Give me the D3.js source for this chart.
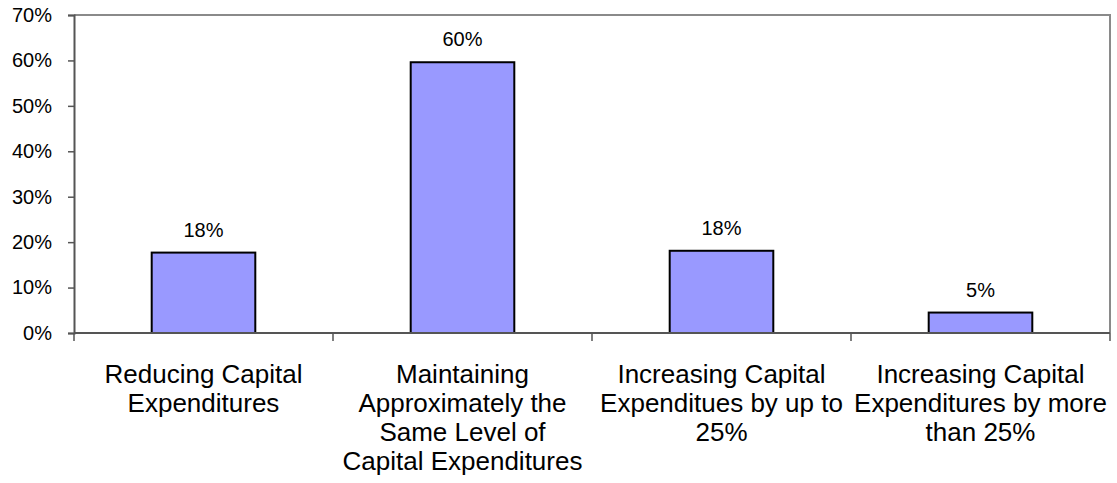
<!DOCTYPE html>
<html>
<head>
<meta charset="utf-8">
<style>
  body { margin: 0; background: #fff; }
  text { font-family: "Liberation Sans", Arial, sans-serif; fill: #000; }
</style>
</head>
<body>
<script src="https://d3js.org/d3.v7.min.js"></script>
<script>
// chart data
var categories = [
  ["Reducing Capital", "Expenditures"],
  ["Maintaining", "Approximately the", "Same Level of", "Capital Expenditures"],
  ["Increasing Capital", "Expenditues by up to", "25%"],
  ["Increasing Capital", "Expenditures by more", "than 25%"]
];
var values = [17.7, 59.6, 18.1, 4.5];
var valueLabels = ["18%", "60%", "18%", "5%"];
var yTicks = [0, 10, 20, 30, 40, 50, 60, 70];

var w = 1117, h = 483;
var padL = 74, padR = 1110, padT = 15, padB = 333;

var svg = d3.select("body").append("svg")
  .attr("width", w)
  .attr("height", h);

var x = d3.scaleBand()
  .domain(d3.range(categories.length))
  .range([padL, padR])
  .paddingInner(0)
  .paddingOuter(0);

var y = d3.scaleLinear()
  .domain([0, 70])
  .range([padB, padT]);

var barW = x.bandwidth() * 0.4;

// top and right border of plot area
svg.append("path")
  .attr("d", "M" + padL + "," + padT + "H" + padR + "V" + padB)
  .attr("fill", "none")
  .attr("stroke", "#8a8a8a")
  .attr("stroke-width", 2);

// bars
svg.selectAll("rect.bar")
  .data(values)
  .enter()
  .append("rect")
  .attr("class", "bar")
  .attr("x", function(d, i) { return x(i) + x.bandwidth() / 2 - barW / 2; })
  .attr("y", function(d) { return y(d); })
  .attr("width", barW)
  .attr("height", function(d) { return padB - y(d); })
  .attr("fill", "#9999ff")
  .attr("stroke", "#000")
  .attr("stroke-width", 2);

// value labels
svg.selectAll("text.val")
  .data(values)
  .enter()
  .append("text")
  .attr("class", "val")
  .attr("x", function(d, i) { return x(i) + x.bandwidth() / 2; })
  .attr("y", function(d) { return y(d) - 16; })
  .attr("text-anchor", "middle")
  .style("font-size", "20px")
  .text(function(d, i) { return valueLabels[i]; });

// y axis
var yAxis = d3.axisLeft(y)
  .tickValues(yTicks)
  .tickSize(6)
  .tickPadding(16)
  .tickFormat(function(d) { return d + "%"; });

var gy = svg.append("g")
  .attr("transform", "translate(" + padL + ",0)")
  .call(yAxis);
gy.select(".domain").attr("stroke", "#555").attr("stroke-width", 2);
gy.selectAll(".tick line").attr("stroke", "#555").attr("stroke-width", 1.5);
gy.selectAll(".tick text")
  .style("font-size", "20px")
  .style("font-family", "'Liberation Sans', Arial, sans-serif")
  .attr("fill", "#000");

// x axis: ticks at category boundaries
var bounds = d3.range(categories.length + 1).map(function(i) {
  return i < categories.length ? x(i) : padR;
});
svg.append("line")
  .attr("x1", padL).attr("x2", padR)
  .attr("y1", padB).attr("y2", padB)
  .attr("stroke", "#555")
  .attr("stroke-width", 2);
svg.selectAll("line.xtick")
  .data(bounds)
  .enter()
  .append("line")
  .attr("class", "xtick")
  .attr("x1", function(d) { return d; })
  .attr("x2", function(d) { return d; })
  .attr("y1", padB)
  .attr("y2", padB + 8)
  .attr("stroke", "#555")
  .attr("stroke-width", 1.5);

// category labels
var cat = svg.selectAll("text.cat")
  .data(categories)
  .enter()
  .append("text")
  .attr("class", "cat")
  .attr("text-anchor", "middle")
  .style("font-size", "26px");
cat.selectAll("tspan")
  .data(function(d, i) { return d.map(function(s) { return { s: s, i: i }; }); })
  .enter()
  .append("tspan")
  .attr("x", function(d) { return x(d.i) + x.bandwidth() / 2; })
  .attr("y", function(d, j) { return 383 + j * 29; })
  .text(function(d) { return d.s; });
</script>
</body>
</html>
